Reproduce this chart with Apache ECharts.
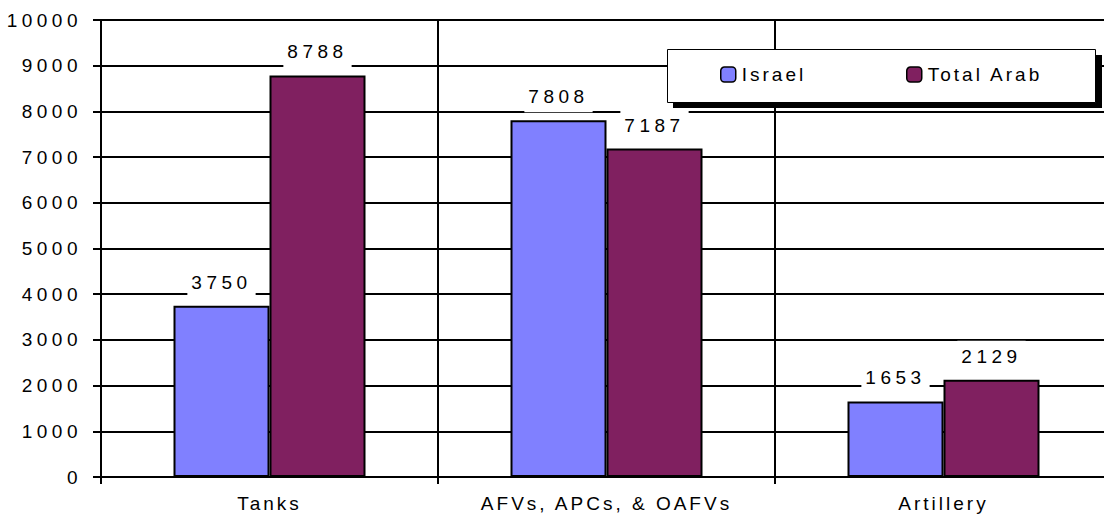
<!DOCTYPE html>
<html>
<head>
<meta charset="utf-8">
<script src="https://cdn.jsdelivr.net/npm/echarts@6/dist/echarts.min.js"></script>
<style>
  html, body { margin: 0; padding: 0; background: #fff; }
  #chart { width: 1104px; height: 518px; }
</style>
</head>
<body>
<div id="chart"></div>
<script>
const categories = ['Tanks', 'AFVs, APCs, & OAFVs', 'Artillery'];
const seriesNames = ['Israel', 'Total Arab'];
const israelValues = [3750, 7808, 1653];
const arabValues = [8788, 7187, 2129];
const yTicks = { min: 0, max: 10000, interval: 1000 };

const FONT = '"Liberation Sans", Arial, sans-serif';
const chart = echarts.init(document.getElementById('chart'), null, { renderer: 'svg' });

const labelStyle = {
  show: true,
  position: 'top',
  distance: 8,
  color: '#000',
  fontFamily: FONT,
  fontSize: 19,
  backgroundColor: '#fff',
  padding: [6, 13, 6, 13]
};

chart.setOption({
  animation: false,
  backgroundColor: '#fff',
  grid: { left: 101, right: -8, top: 20, bottom: 41, containLabel: false, outerBoundsMode: 'none' },
  legend: [
    { data: [seriesNames[0]], left: 720, top: 65, padding: 0, itemWidth: 15, itemHeight: 15, itemGap: 6,
      textStyle: { fontFamily: FONT, fontSize: 19, color: '#000', padding: [0, 0, 0, 1] }, z: 20,
      itemStyle: { borderColor: '#000', borderWidth: 1.5 } },
    { data: [seriesNames[1]], left: 906, top: 65, padding: 0, itemWidth: 15, itemHeight: 15, itemGap: 6,
      textStyle: { fontFamily: FONT, fontSize: 19, color: '#000', padding: [0, 0, 0, 1] }, z: 20,
      itemStyle: { borderColor: '#000', borderWidth: 1.5 } }
  ],
  graphic: [
    { type: 'rect', z: 10, shape: { x: 673, y: 55, width: 429, height: 53 }, style: { fill: '#000' } },
    { type: 'rect', z: 11, shape: { x: 667.5, y: 49.5, width: 428, height: 53 }, style: { fill: '#fff', stroke: '#000', lineWidth: 1 } }
  ],
  xAxis: {
    type: 'category',
    data: categories,
    boundaryGap: true,
    axisLine: { show: true, lineStyle: { color: '#000', width: 2 } },
    axisTick: { show: true, length: 7, lineStyle: { color: '#000', width: 2 } },
    splitLine: { show: true, lineStyle: { color: '#000', width: 2 } },
    axisLabel: { color: '#000', fontFamily: FONT, fontSize: 19, margin: 17 }
  },
  yAxis: {
    type: 'value',
    min: yTicks.min, max: yTicks.max, interval: yTicks.interval,
    axisLine: { show: true, lineStyle: { color: '#000', width: 2 } },
    axisTick: { show: true, length: 8, lineStyle: { color: '#000', width: 2 } },
    splitLine: { show: true, lineStyle: { color: '#000', width: 2 } },
    axisLabel: { color: '#000', fontFamily: FONT, fontSize: 19, margin: 19, formatter: v => String(v) }
  },
  series: [
    { name: seriesNames[0], type: 'bar', data: israelValues, barWidth: 96, barGap: '0%',
      itemStyle: { color: '#8080FF', borderColor: '#000', borderWidth: 2 }, label: labelStyle },
    { name: seriesNames[1], type: 'bar', data: arabValues, barWidth: 96, barGap: '0%',
      itemStyle: { color: '#802060', borderColor: '#000', borderWidth: 2 }, label: labelStyle }
  ]
});

function spaceText() {
  document.querySelectorAll('#chart svg text').forEach(t => {
    const s = (t.textContent || '').trim();
    t.style.letterSpacing = /^\d+$/.test(s) ? '4.5px' : '3px';
  });
}
spaceText();
chart.on('finished', spaceText);
</script>
</body>
</html>
